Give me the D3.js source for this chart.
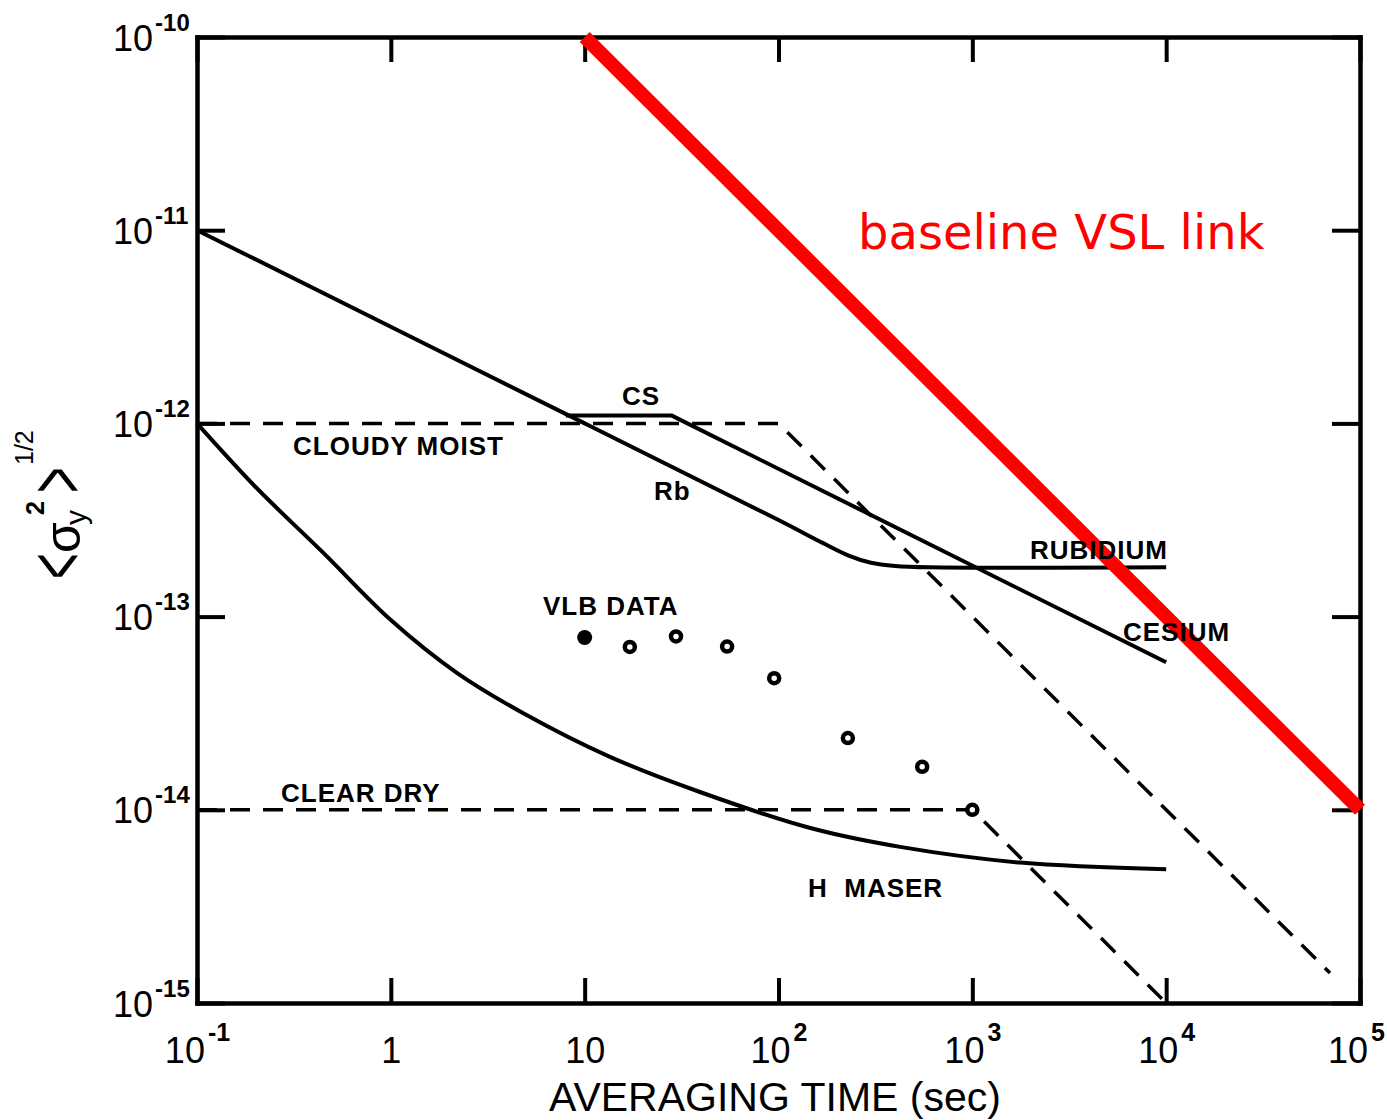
<!DOCTYPE html>
<html>
<head>
<meta charset="utf-8">
<script src="https://cdn.jsdelivr.net/npm/d3@7"></script>
<style>
body { margin: 0; background: #fff; }
</style>
</head>
<body>
<div class="canvas"></div>
<script>
// tick values and labels
const xTicks = [0.1, 1, 10, 100, 1000, 10000, 100000]
const xTickBase = ['10', '1', '10', '10', '10', '10', '10']
const xTickExp = ['-1', '', '', '2', '3', '4', '5']
const yTicks = [1e-10, 1e-11, 1e-12, 1e-13, 1e-14, 1e-15]
const yTickExp = ['-10', '-11', '-12', '-13', '-14', '-15']

// rubidium standard
const rbTau = [0.1, 10, 100, 170, 230, 300, 400, 600, 10000]
const rbSigma = [1e-11, 1e-12, 3.16e-13, 2.4e-13, 2.07e-13, 1.9e-13, 1.83e-13, 1.8e-13, 1.8e-13]

// cesium standard
const csTau = [8, 28, 10000]
const csSigma = [1.1e-12, 1.1e-12, 5.8e-14]

// hydrogen maser
const hmTau = [0.1, 0.2, 0.45, 1, 2.2, 4.8, 13.5, 39, 146, 424, 1770, 10000]
const hmSigma = [1e-12, 4.7e-13, 2.13e-13, 9.6e-14, 5.1e-14, 3.17e-14, 1.88e-14, 1.24e-14, 8.05e-15, 6.43e-15, 5.33e-15, 4.93e-15]

// atmosphere
const cloudyTau = [0.1, 100, 70000]
const cloudySigma = [1e-12, 1e-12, 1.43e-15]
const clearTau = [0.1, 1000, 10000]
const clearSigma = [1e-14, 1e-14, 1e-15]

// VLB data points
const vlbTau = [10, 17.1, 29.6, 54.3, 95, 228, 551, 1000]
const vlbSigma = [7.8e-14, 6.97e-14, 7.9e-14, 7.0e-14, 4.8e-14, 2.35e-14, 1.67e-14, 1.0e-14]
const vlbFilled = [true, false, false, false, false, false, false, false]

// baseline VSL link
const vslTau = [10, 100000]
const vslSigma = [1e-10, 1e-14]

const svg = d3.select('.canvas').append('svg').attr('width', 1387).attr('height', 1120)

const margins = { top: 37, right: 27, bottom: 117, left: 197 }
const gWidth = 1387 - margins.left - margins.right
const gHeight = 1120 - margins.top - margins.bottom

const graph = svg.append('g').attr('transform', `translate(${margins.left}, ${margins.top})`)

const x = d3.scaleLog().domain([0.1, 100000]).range([0, gWidth])
const y = d3.scaleLog().domain([1e-15, 1e-10]).range([gHeight, 0])

const tickFont = 'Liberation Sans, Arial, sans-serif'

// axes: ticks point inward on all four sides
const xAxisGroup = graph.append('g').attr('transform', `translate(0, ${gHeight})`)
const xTopGroup = graph.append('g')
const yAxisGroup = graph.append('g')
const yRightGroup = graph.append('g').attr('transform', `translate(${gWidth}, 0)`)

xAxisGroup.call(d3.axisBottom(x).tickValues(xTicks).tickSize(-25).tickSizeOuter(0).tickFormat(''))
xTopGroup.call(d3.axisTop(x).tickValues(xTicks).tickSize(-25).tickSizeOuter(0).tickFormat(''))
yAxisGroup.call(d3.axisLeft(y).tickValues(yTicks).tickSize(-28).tickSizeOuter(0).tickFormat(''))
yRightGroup.call(d3.axisRight(y).tickValues(yTicks).tickSize(-28).tickSizeOuter(0).tickFormat(''))

graph.selectAll('.domain').attr('stroke', '#000').attr('stroke-width', 4.5).attr('stroke-linecap', 'square')
graph.selectAll('.tick line').attr('stroke', '#000').attr('stroke-width', 4)

// x tick labels
xAxisGroup.selectAll('.tick').each(function (d, i) {
    const t = d3.select(this).append('text')
        .attr('y', 60)
        .attr('text-anchor', 'middle')
        .attr('fill', '#000')
        .attr('font-family', tickFont)
        .attr('font-size', 36)
    t.append('tspan').text(xTickBase[i])
    if (xTickExp[i]) {
        t.append('tspan').attr('dy', -22).attr('dx', 3).attr('font-size', 25).attr('font-weight', 'bold').text(xTickExp[i])
    }
    // keep the last label inside the page
    const w = t.node().getComputedTextLength()
    const over = x(d) + margins.left + w / 2 - 1383
    if (over > 0) t.attr('x', -over)
})

// y tick labels
yAxisGroup.selectAll('.tick').each(function (d, i) {
    const t = d3.select(this).append('text')
        .attr('x', -84)
        .attr('y', 13)
        .attr('text-anchor', 'start')
        .attr('fill', '#000')
        .attr('font-family', tickFont)
        .attr('font-size', 36)
    t.append('tspan').text('10')
    t.append('tspan').attr('dy', -20).attr('dx', 2).attr('font-size', 24).attr('font-weight', 'bold').text(yTickExp[i])
})

// axis titles
svg.append('text')
    .attr('x', 775)
    .attr('y', 1111)
    .attr('text-anchor', 'middle')
    .attr('font-family', tickFont)
    .attr('font-size', 41)
    .text('AVERAGING TIME (sec)')

const yTitle = svg.append('g').attr('transform', 'translate(80, 503) rotate(-90)')
    .attr('font-family', tickFont)
yTitle.append('text').attr('transform', 'translate(-76, 4) scale(0.55, 1)').attr('font-size', 80).text('<')
yTitle.append('text').attr('x', -50).attr('y', 0).attr('font-size', 50).text('σ')
yTitle.append('text').attr('x', -22).attr('y', 6).attr('font-size', 30).text('y')
yTitle.append('text').attr('x', -12).attr('y', -36).attr('font-size', 25).attr('font-weight', 'bold').text('2')
yTitle.append('text').attr('transform', 'translate(10, 4) scale(0.55, 1)').attr('font-size', 80).text('>')
yTitle.append('text').attr('x', 38).attr('y', -47).attr('font-size', 25).text('1/2')

// curves
const line = d3.line().x(d => x(d[0])).y(d => y(d[1]))
const smooth = d3.line().x(d => x(d[0])).y(d => y(d[1])).curve(d3.curveCatmullRom.alpha(0.5))

const plot = graph.append('g').attr('fill', 'none').attr('stroke', '#000')

plot.append('path').attr('d', smooth(d3.zip(rbTau, rbSigma))).attr('stroke-width', 4)
plot.append('path').attr('d', line(d3.zip(csTau, csSigma))).attr('stroke-width', 4).attr('stroke-linejoin', 'round')
plot.append('path').attr('d', smooth(d3.zip(hmTau, hmSigma))).attr('stroke-width', 4)
plot.append('path').attr('d', line(d3.zip(cloudyTau, cloudySigma))).attr('stroke-width', 3.5).attr('stroke-dasharray', '20,13')
plot.append('path').attr('d', line(d3.zip(clearTau, clearSigma))).attr('stroke-width', 3.5).attr('stroke-dasharray', '20,13')

// VLB data
graph.selectAll('circle.vlb')
    .data(d3.zip(vlbTau, vlbSigma, vlbFilled))
    .enter()
    .append('circle')
    .attr('class', 'vlb')
    .attr('cx', d => x(d[0]))
    .attr('cy', d => y(d[1]))
    .attr('r', d => d[2] ? 7.5 : 5)
    .attr('fill', d => d[2] ? '#000' : '#fff')
    .attr('stroke', '#000')
    .attr('stroke-width', d => d[2] ? 0 : 4.5)

// curve labels
const labels = [
    { text: 'CS', x: 622, y: 405 },
    { text: 'CLOUDY MOIST', x: 293, y: 455 },
    { text: 'Rb', x: 654, y: 500 },
    { text: 'RUBIDIUM', x: 1030, y: 559 },
    { text: 'VLB DATA', x: 543, y: 615 },
    { text: 'CESIUM', x: 1123, y: 641 },
    { text: 'CLEAR DRY', x: 281, y: 802 },
    { text: 'H  MASER', x: 808, y: 897 }
]
svg.selectAll('text.lbl')
    .data(labels)
    .enter()
    .append('text')
    .attr('class', 'lbl')
    .attr('x', d => d.x)
    .attr('y', d => d.y)
    .attr('font-family', tickFont)
    .attr('font-weight', 'bold')
    .attr('font-size', 26)
    .attr('letter-spacing', 1)
    .style('white-space', 'pre')
    .text(d => d.text)

// baseline VSL link
graph.append('path')
    .attr('d', line(d3.zip(vslTau, vslSigma)))
    .attr('fill', 'none')
    .attr('stroke', '#ff0000')
    .attr('stroke-width', 14)

svg.append('text')
    .attr('x', 858)
    .attr('y', 249)
    .attr('fill', '#ff0000')
    .attr('font-family', 'DejaVu Sans, sans-serif')
    .attr('font-size', 48)
    .text('baseline VSL link')
</script>
</body>
</html>
